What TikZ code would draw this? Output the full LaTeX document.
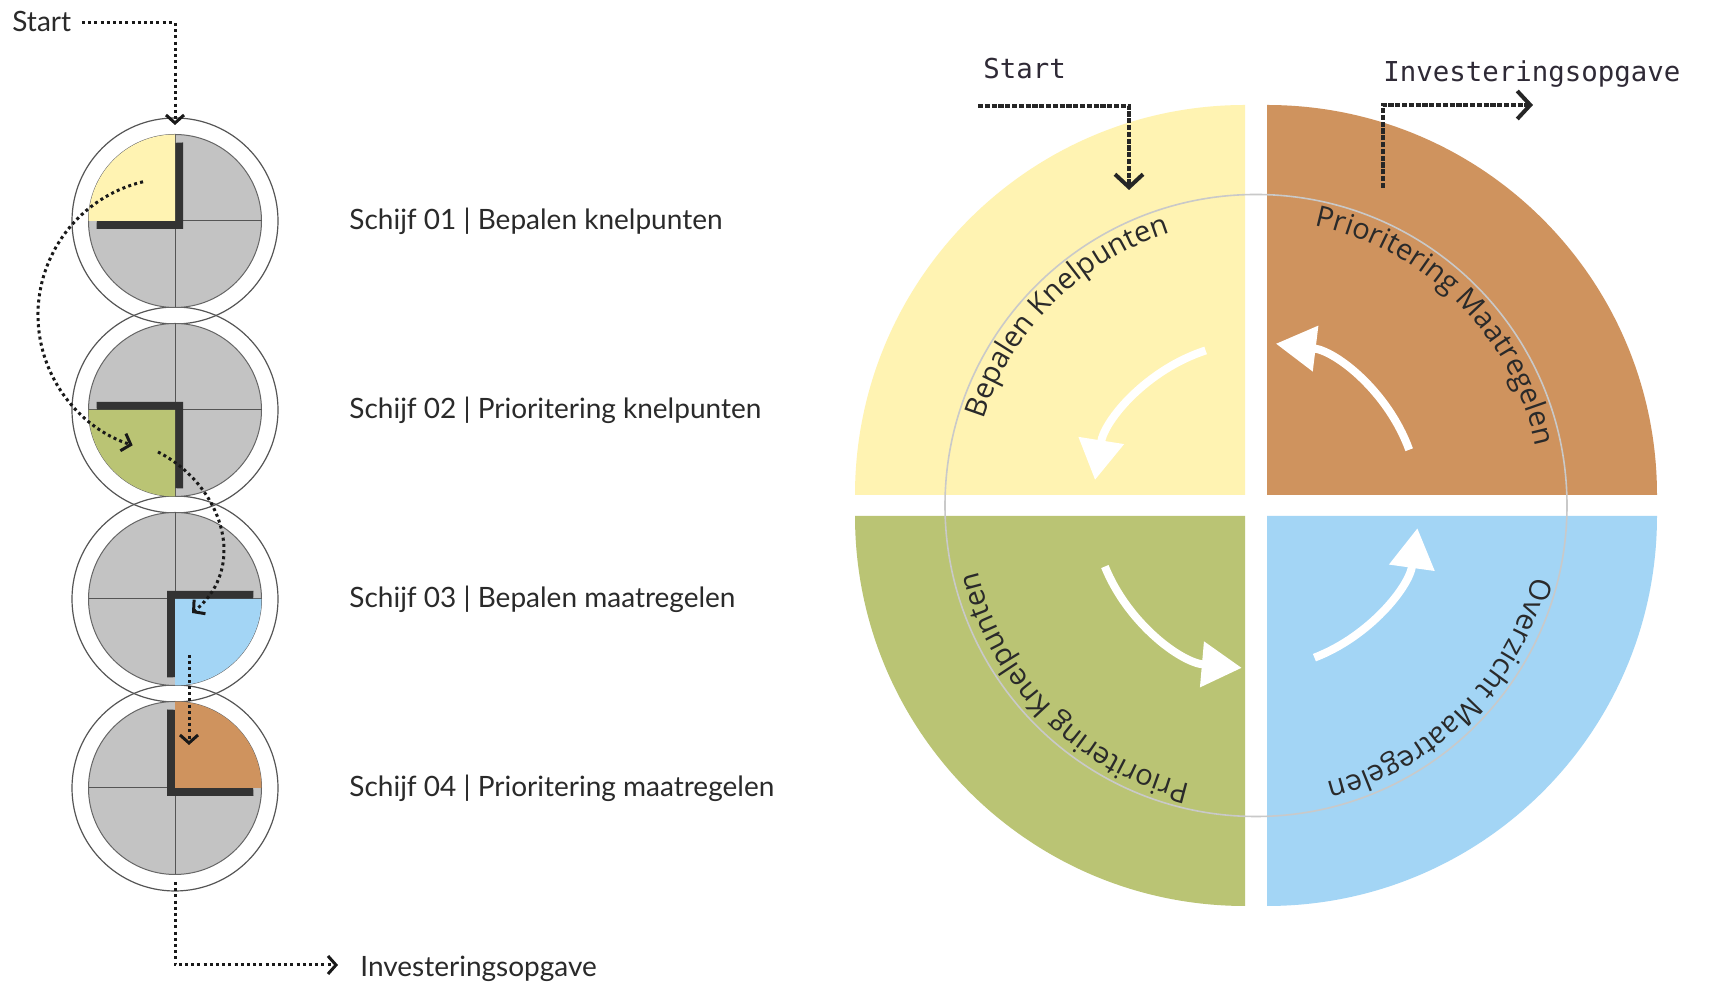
\documentclass[tikz,border=0pt]{standalone}
\usepackage{fontspec}
\setmainfont{Lato}
\newfontfamily\arcfont{Open Sans}
\newfontfamily\codefont{DejaVu Sans Mono}
\usetikzlibrary{arrows.meta,decorations.text}
\definecolor{qyellow}{HTML}{FFF3B2}
\definecolor{qbrown}{HTML}{CF935E}
\definecolor{qgreen}{HTML}{BAC474}
\definecolor{qblue}{HTML}{A3D5F5}
\definecolor{diskgray}{HTML}{C3C3C3}
\definecolor{ringline}{HTML}{555555}
\definecolor{shadowdark}{HTML}{333333}
\definecolor{ink}{HTML}{2A2A2A}
\definecolor{codeink}{HTML}{2F2A36}
\definecolor{circline}{HTML}{C9C9C9}
\begin{document}
\begin{tikzpicture}[x=0.5pt,y=0.5pt,
  lbl/.style={font=\fontsize{14pt}{16pt}\selectfont, text=ink, inner sep=0pt, anchor=base west},
  codelbl/.style={font=\codefont\fontsize{13.7pt}{16pt}\selectfont, text=codeink, inner sep=0pt, anchor=base west},
  dotline/.style={draw=black!90, line width=1.5pt, dash pattern=on 1.5pt off 1.6pt, -{Straight Barb[length=4pt,width=9pt,line width=1.5pt]}},
  dashline/.style={draw=black!85, line width=1.8pt, dash pattern=on 2.6pt off 0.8pt, -{Straight Barb[length=6.5pt,width=14pt,line width=2pt]}},
  whitearrow/.style={draw=white, line width=4pt, -{Triangle[length=20pt,width=22pt]}},
  ring/.style={draw=ringline, line width=0.6pt},
  disk/.style={fill=diskgray, draw=gray!80!black, line width=0.5pt},
  cross/.style={draw=ringline, line width=0.5pt},
  shade/.style={fill=shadowdark},
]
\useasboundingbox (0,0) rectangle (1721,984);
\fill[white] (0,0) rectangle (1721,984);

% ---------------- left: four discs ----------------
\foreach \cy in {763,574,385,196}{
  \draw[ring] (175,\cy) circle[radius=103];
}
\foreach \cy/\a/\col/\dx/\dy in {763/90/qyellow/8/-8, 574/180/qgreen/8/8, 385/270/qblue/-8/8, 196/0/qbrown/-8/-8}{
  \draw[disk] (175,\cy) circle[radius=86.5];
  \draw[cross] (88.5,\cy) -- (261.5,\cy);
  \draw[cross] (175,\cy-86.5) -- (175,\cy+86.5);
  \fill[shade] ([shift={(\dx,\dy)}]175,\cy) -- ++(\a:86.5) arc[start angle=\a, delta angle=90, radius=86.5] -- cycle;
  \fill[\col] (175,\cy) -- ++(\a:86.5) arc[start angle=\a, delta angle=90, radius=86.5] -- cycle;
}

% labels
\node[lbl, font=\fontsize{14pt}{16pt}\selectfont] (lstart) at (12,952) {Start};
\node[lbl] (s1) at (349,754) {Schijf 01 | Bepalen knelpunten};
\node[lbl] (s2) at (349,565) {Schijf 02 | Prioritering knelpunten};
\node[lbl] (s3) at (349,376) {Schijf 03 | Bepalen maatregelen};
\node[lbl] (s4) at (349,187) {Schijf 04 | Prioritering maatregelen};
\node[lbl] (linv) at (360,7) {Investeringsopgave};

% left dotted connectors
\coordinate (ls1) at (82,961);
\coordinate (d1top) at (175,859);
\draw[dotline] (ls1) -| (d1top);
\draw[dotline] (175,669) ++(103.5:137) arc[start angle=103.5, end angle=252, radius=137];
\coordinate (b0) at (158,532);
\coordinate (b3) at (192,371);
\draw[dotline] (b0) .. controls (221,500) and (250,418) .. (b3);
\coordinate (v0) at (189,329);
\coordinate (v1) at (189,239);
\draw[dotline] (v0) -- (v1);
\coordinate (d4bot) at (175,102);
\coordinate (linvarrow) at (338,19);
\draw[dotline] (d4bot) |- (linvarrow);

% ---------------- right: big wheel ----------------
\fill[qyellow] (1245,489) -- ++(90:390) arc[start angle=90, end angle=180, radius=390] -- cycle;
\fill[qbrown] (1267,489) -- ++(0:390) arc[start angle=0, end angle=90, radius=390] -- cycle;
\fill[qgreen] (1245,468) -- ++(180:390) arc[start angle=180, end angle=270, radius=390] -- cycle;
\fill[qblue] (1267,468) -- ++(270:390) arc[start angle=270, end angle=360, radius=390] -- cycle;

\draw[circline, line width=0.8pt] (1256,478.5) circle[radius=311];

\path[decorate, decoration={text along path, text align=center, text color=ink,
  text={|\arcfont\fontsize{14.5pt}{16pt}\selectfont|Bepalen Knelpunten}}]
  (1256,478.5) ++(175:286) arc[start angle=175, end angle=95, radius=286];
\path[decorate, decoration={text along path, text align=center, text color=ink,
  text={|\arcfont\fontsize{14.5pt}{16pt}\selectfont|Prioritering Maatregelen}}]
  (1256,478.5) ++(85:286) arc[start angle=85, end angle=5, radius=286];
\path[decorate, decoration={text along path, text align=center, text color=ink,
  text={|\arcfont\fontsize{14.5pt}{16pt}\selectfont|Prioritering Knelpunten}}]
  (1256,478.5) ++(265:286) arc[start angle=265, end angle=185, radius=286];
\path[decorate, decoration={text along path, text align=center, text color=ink,
  text={|\arcfont\fontsize{14.5pt}{16pt}\selectfont|Overzicht Maatregelen}}]
  (1256,478.5) ++(355:286) arc[start angle=355, end angle=275, radius=286];

% white cycle arrows
\draw[whitearrow] (1256,478.5) ++(108:163) arc[start angle=108, end angle=171, radius=163];
\draw[whitearrow] (1256,478.5) ++(202:163) arc[start angle=202, end angle=265, radius=163];
\draw[whitearrow] (1256,478.5) ++(291:163) arc[start angle=291, end angle=352, radius=163];
\draw[whitearrow] (1256,478.5) ++(20:163) arc[start angle=20, end angle=83, radius=163];

% top labels and dashed connectors
\node[codelbl] (rstart) at (983,905) {Start};
\node[codelbl] (rinv) at (1383,902) {Investeringsopgave};
\coordinate (rs1) at (978,878);
\coordinate (rs2) at (1129,794);
\draw[dashline] (rs1) -| (rs2);
\coordinate (ri1) at (1383,796);
\coordinate (ri2) at (1533,879);
\draw[dashline] (ri1) |- (ri2);
\end{tikzpicture}
\end{document}
